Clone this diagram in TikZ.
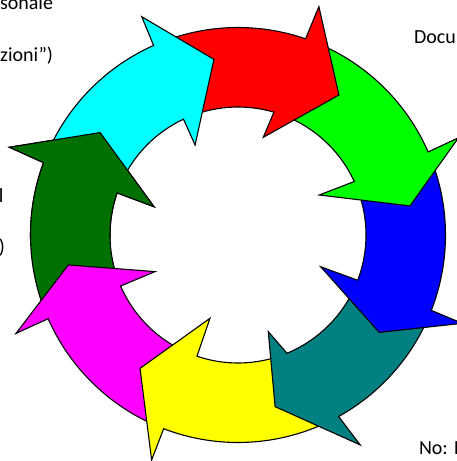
\documentclass[tikz,border=0pt]{standalone}
\usepackage{fontspec}
\setmainfont{Carlito}
\usetikzlibrary{calc}
\definecolor{cyanA}{RGB}{0,255,255}
\definecolor{redA}{RGB}{255,0,0}
\definecolor{greenA}{RGB}{0,255,0}
\definecolor{blueA}{RGB}{0,0,255}
\definecolor{tealA}{RGB}{0,128,128}
\definecolor{yellowA}{RGB}{255,255,0}
\definecolor{magentaA}{RGB}{255,0,255}
\definecolor{dkgreenA}{RGB}{0,112,0}
\def\Rout{207.5pt}
\def\Rin{128pt}
% #1 colour, #2 tail outer angle, #3 tail inner angle, #4 neck outer angle,
% #5 neck inner angle, #6 outer wing, #7 tip, #8 inner wing (angle:radius)
\newcommand\ringarrow[8]{%
  \path[arrowbody, fill=#1]
    ($(C)+(#2:\Rout)$) arc[start angle=#2, end angle=#4, radius=\Rout]
    -- ($(C)+(#6)$) -- ($(C)+(#7)$) -- ($(C)+(#8)$)
    -- ($(C)+(#5:\Rin)$) arc[start angle=#5, end angle=#3, radius=\Rin]
    -- cycle;}
\tikzset{
  arrowbody/.style={draw=black, line width=1.1pt, line join=miter},
  fragment/.style={inner sep=0pt, outer sep=0pt, font=\fontsize{20pt}{24pt}\selectfont}
}
\begin{document}
\begin{tikzpicture}[x=1pt,y=1pt]
\useasboundingbox (0,0) rectangle (456,461);
\coordinate (C) at (238,226);
% text fragments
\node[fragment, anchor=base east] (t1) at (53,451.5) {sonale};
\node[fragment, anchor=base east] (t2) at (53,399.3) {zioni”)};
\node[fragment, anchor=base east] (t3) at (3.5,258) {l};
\node[fragment, anchor=base east] (t4) at (5,207.5) {)};
\node[fragment, anchor=base west] (t5) at (414,417.5) {Docu};
\node[fragment, anchor=base west] (t6) at (419,6) {No: I};
% arrows, drawn so that each head lies over the next tail
\ringarrow{dkgreenA}{202.3}{202}{159.6}{160.8}{159:244.9pt}{143.4:171.8pt}{161.4:88.6pt}
\ringarrow{magentaA}{-112.5}{-110.2}{-156.2}{-156.5}{-156.1:242.8pt}{-170:172.3pt}{-156.2:90.7pt}
\ringarrow{yellowA}{-62.5}{-69}{-111}{-108.7}{-111:241pt}{-126.3:165.5pt}{-108.6:87.9pt}
\ringarrow{tealA}{-22.8}{-22.2}{-61}{-67.5}{-59.8:242.9pt}{-77.8:175.6pt}{-72.6:101.3pt}
\ringarrow{blueA}{22.1}{23.2}{-21.3}{-20.7}{-21.5:241pt}{-34.6:171.6pt}{-21:88.5pt}
\ringarrow{greenA}{69.5}{72.2}{23.6}{24.7}{23.8:241pt}{9.6:174.4pt}{26.2:90.6pt}
\ringarrow{redA}{112.5}{113.7}{71}{73.7}{70.5:242.3pt}{54.2:172.6pt}{75.5:100.9pt}
\ringarrow{cyanA}{158.1}{159.3}{114}{115.2}{113.8:238.6pt}{97.8:177.3pt}{115.5:99.7pt}
% dark green head again, over the cyan tail
\begin{scope}
\clip (C) -- ($(C)+(125:300pt)$) arc[start angle=125, end angle=182, radius=300pt] -- cycle;
\ringarrow{dkgreenA}{202.3}{202}{159.6}{160.8}{159:244.9pt}{143.4:171.8pt}{161.4:88.6pt}
\end{scope}
\end{tikzpicture}
\end{document}
